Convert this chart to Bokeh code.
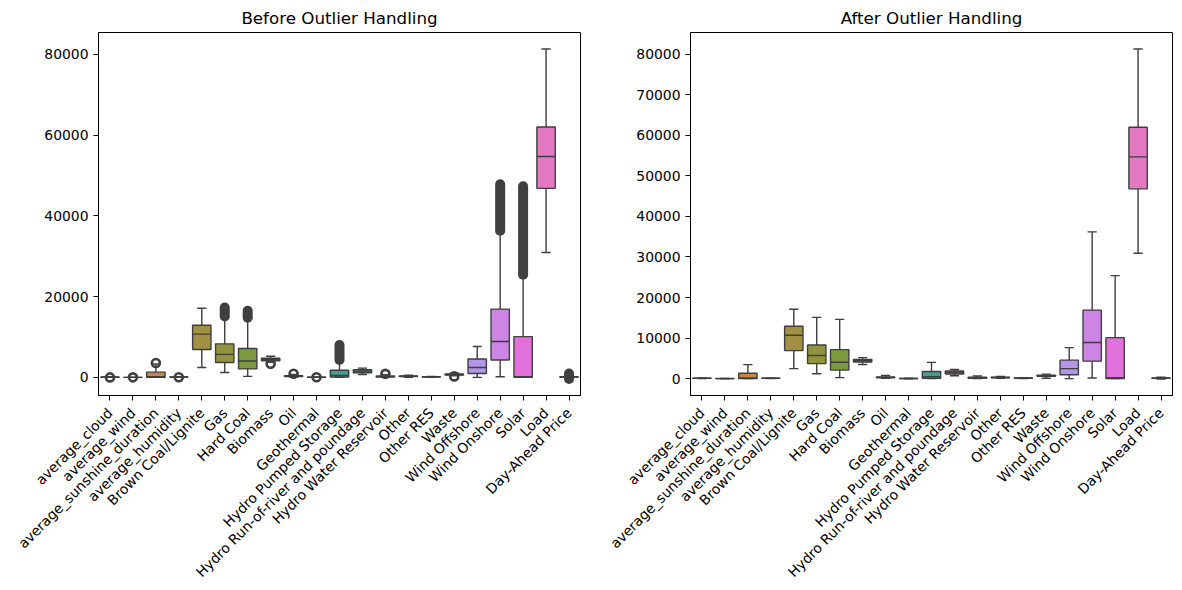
import math
import colorsys
import numpy as np
from bokeh.plotting import figure
from bokeh.models import ColumnDataSource, FactorRange, Range1d, SingleIntervalTicker
from bokeh.layouts import row
from bokeh.transform import dodge
from bokeh.embed import file_html
from bokeh.resources import INLINE

# ---------------- data ----------------
categories = ["average_cloud", "average_wind", "average_sunshine_duration", "average_humidity",
              "Brown Coal/Lignite", "Gas", "Hard Coal", "Biomass", "Oil", "Geothermal",
              "Hydro Pumped Storage", "Hydro Run-of-river and poundage", "Hydro Water Reservoir",
              "Other", "Other RES", "Waste", "Wind Offshore", "Wind Onshore", "Solar", "Load",
              "Day-Ahead Price"]

q1 = [45, 2.5, 0, 65, 6900, 3700, 2100, 4100, 200, 15, 100, 1150, 100, 200, 100, 550, 950, 4300, 0, 46800, 60]
median = [68, 3.5, 150, 77, 10700, 5700, 4050, 4450, 300, 20, 450, 1550, 200, 280, 130, 700, 2450, 8900, 200, 54700, 110]
q3 = [85, 5, 1300, 87, 12900, 8300, 7150, 4750, 420, 25, 1750, 1900, 350, 360, 160, 850, 4550, 16900, 10100, 62000, 170]

# before outlier handling
before_whisker_lo = [20, 0.5, 0, 40, 2450, 1200, 250, 3750, 100, 5, 0, 700, 0, 50, 40, 420, 0, 150, 0, 30900, -100]
before_whisker_hi = [100, 9, 3300, 100, 17100, 15000, 14650, 5250, 700, 35, 4250, 2300, 650, 550, 250, 1100, 7650, 36000, 25200, 81300, 330]
before_flier_lo = [0, 9.5, 3450, 20, None, 15100, 14750, 3150, 750, 0, 4300, None, 700, None, None, 100, None, 36300, 25400, None, -400]
before_flier_hi = [3, 14, 3700, 33, None, 17300, 16500, 3550, 1050, 60, 8000, None, 1050, None, None, 380, None, 47800, 47300, None, 950]

# after outlier handling
after_whisker_lo = [20, 0.5, 0, 40, 2450, 1200, 250, 3460, 100, 5, 0, 700, 0, 50, 40, 100, 0, 150, 0, 30900, -100]
after_whisker_hi = [100, 9, 3450, 100, 17100, 15100, 14600, 5180, 750, 35, 4000, 2250, 650, 550, 250, 1100, 7650, 36200, 25400, 81300, 330]

titles = ["Before Outlier Handling", "After Outlier Handling"]
y_tick_steps = [20000, 10000]

# ---------------- seaborn-like husl palette ----------------
_M = [[3.2406, -1.5372, -0.4986],
      [-0.9689, 1.8758, 0.0415],
      [0.0557, -0.2040, 1.0570]]
_REF_U, _REF_V, _KAPPA = 0.19784, 0.46834, 903.3


def _max_chroma(L, H):
    hrad = math.radians(H)
    sinH, cosH = math.sin(hrad), math.cos(hrad)
    sub1 = (L + 16) ** 3 / 1560896.0
    sub2 = sub1 if sub1 > 0.008856 else L / 903.3
    result = float("inf")
    for m1, m2, m3 in _M:
        top = (0.99915 * m1 + 1.05122 * m2 + 1.14460 * m3) * sub2
        rbottom = 0.86330 * m3 - 0.17266 * m2
        lbottom = 0.12949 * m3 - 0.38848 * m1
        bottom = (rbottom * sinH + lbottom * cosH) * sub2
        for t in (0.0, 1.0):
            C = L * (top - 1.05122 * t) / (bottom + 0.17266 * sinH * t)
            if 0.0 < C < result:
                result = C
    return result


def _from_linear(c):
    return 1.055 * c ** (1 / 2.4) - 0.055 if c > 0.0031308 else 12.92 * c


def husl_to_rgb(h, s, l):
    C = _max_chroma(l, h) / 100.0 * s
    hr = math.radians(h)
    U, V = C * math.cos(hr), C * math.sin(hr)
    varU = U / (13 * l) + _REF_U
    varV = V / (13 * l) + _REF_V
    Y = ((l + 16) / 116.0) ** 3 if l > 8 else l / _KAPPA
    X = -(9 * Y * varU) / ((varU - 4) * varV - varU * varV)
    Z = (9 * Y - 15 * varV * Y - varV * X) / (3 * varV)
    rgb = [_from_linear(r[0] * X + r[1] * Y + r[2] * Z) for r in _M]
    return [min(1.0, max(0.0, c)) for c in rgb]


n = len(categories)
hues = (np.linspace(0, 1, n + 1)[:-1] + 0.01) % 1 * 359
base = [husl_to_rgb(h, 0.9 * 99, 0.65 * 99) for h in hues]


def to_hex(rgb):
    return "#%02x%02x%02x" % tuple(int(round(c * 255)) for c in rgb)


fills = []
for rgb in base:
    hh, ll, ss = colorsys.rgb_to_hls(*rgb)
    fills.append(to_hex(colorsys.hls_to_rgb(hh, ll, ss * 0.75)))
lum = min(colorsys.rgb_to_hls(*rgb)[1] for rgb in base) * 0.6
line_col = to_hex((lum, lum, lum))

FONT = "DejaVu Sans"


def make_panel(title, wlo, whi, flo, fhi, step, width, b_left, b_right):
    vals = wlo + whi + q1 + q3 + [x for x in flo if x is not None] + [x for x in fhi if x is not None]
    lo, hi = min(vals), max(vals)
    pad = 0.05 * (hi - lo)
    y0, y1 = lo - pad, hi + pad
    p = figure(x_range=FactorRange(*categories), y_range=Range1d(y0, y1),
               width=width, height=588, output_backend="svg", toolbar_location=None,
               min_border_left=b_left, min_border_right=b_right, min_border_top=32, min_border_bottom=20,
               title=title)
    p.title.align = "center"
    p.title.text_font = FONT
    p.title.text_font_size = "16.7px"
    p.title.text_font_style = "normal"
    p.title.text_color = "black"
    p.xgrid.visible = False
    p.ygrid.visible = False
    p.outline_line_color = "black"
    p.outline_line_width = 1
    p.outline_line_alpha = 1
    p.background_fill_color = "white"
    for ax in (p.xaxis[0], p.yaxis[0]):
        ax.major_label_text_font = FONT
        ax.major_label_text_font_size = "13.9px"
        ax.major_label_text_color = "black"
        ax.major_tick_out = 5
        ax.major_tick_in = 0
        ax.minor_tick_line_color = None
        ax.axis_line_color = "black"
        ax.major_tick_line_color = "black"
    p.xaxis.major_label_orientation = math.pi / 4
    p.xaxis.major_label_standoff = 10
    p.yaxis.ticker = SingleIntervalTicker(interval=step)
    p.yaxis.formatter.use_scientific = False

    src = ColumnDataSource(dict(cat=categories, q1=q1, med=median, q3=q3, wlo=wlo, whi=whi, fill=fills))
    lw = 1.4
    # whiskers
    p.segment(x0="cat", y0="q3", x1="cat", y1="whi", source=src, line_color=line_col, line_width=lw)
    p.segment(x0="cat", y0="q1", x1="cat", y1="wlo", source=src, line_color=line_col, line_width=lw)
    # caps
    for col in ("whi", "wlo"):
        p.segment(x0=dodge("cat", -0.2, range=p.x_range), y0=col,
                  x1=dodge("cat", 0.2, range=p.x_range), y1=col,
                  source=src, line_color=line_col, line_width=lw)
    # boxes
    p.vbar(x="cat", bottom="q1", top="q3", width=0.8, source=src, fill_color="fill",
           line_color=line_col, line_width=lw)
    # medians
    p.segment(x0=dodge("cat", -0.4, range=p.x_range), y0="med",
              x1=dodge("cat", 0.4, range=p.x_range), y1="med",
              source=src, line_color=line_col, line_width=lw)

    # fliers
    units_per_px = (y1 - y0) / 364.0
    col_c, col_lo, col_hi, ring_c, ring_y = [], [], [], [], []
    for c, a, b in zip(categories, flo, fhi):
        if a is None:
            continue
        if (b - a) / units_per_px < 3:
            ring_c.append(c)
            ring_y.append((a + b) / 2)
        else:
            col_c.append(c)
            col_lo.append(a)
            col_hi.append(b)
    if col_c:
        fsrc = ColumnDataSource(dict(cat=col_c, lo=col_lo, hi=col_hi))
        p.segment(x0="cat", y0="lo", x1="cat", y1="hi", source=fsrc, line_color=line_col,
                  line_width=10, line_cap="round")
    if ring_c:
        rsrc = ColumnDataSource(dict(cat=ring_c, y=ring_y))
        p.scatter(x="cat", y="y", source=rsrc, marker="circle", size=8, fill_color=None,
                  line_color=line_col, line_width=2.6)
    return p


left = make_panel(titles[0], before_whisker_lo, before_whisker_hi, before_flier_lo, before_flier_hi,
                  y_tick_steps[0], 608, 98, 28)
right = make_panel(titles[1], after_whisker_lo, after_whisker_hi, [None] * n, [None] * n,
                   y_tick_steps[1], 572, 82, 8)

layout = row(left, right)
open("out.html", "w").write(file_html(layout, INLINE))
